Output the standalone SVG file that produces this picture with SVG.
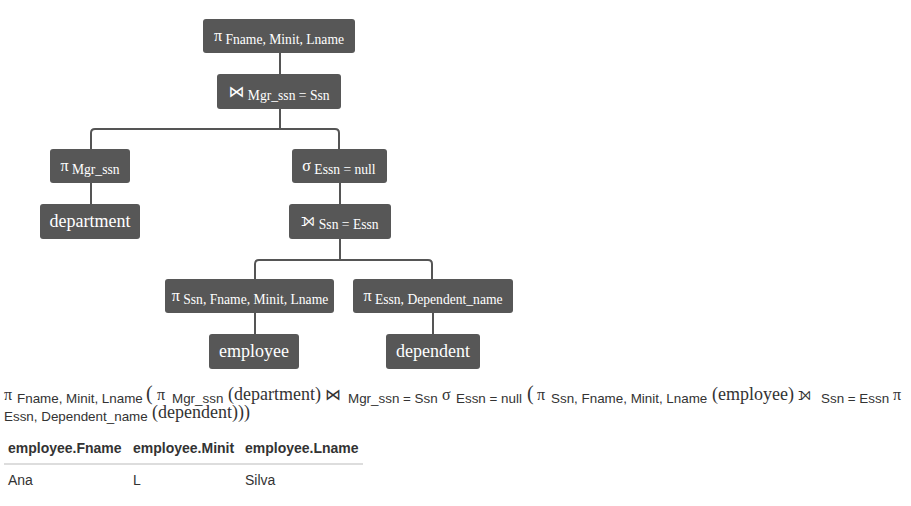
<svg xmlns="http://www.w3.org/2000/svg" width="911" height="506" viewBox="0 0 911 506">
<style>
.node rect{fill:#575757;}
.node text{fill:#fff;font-family:"Liberation Serif","Times New Roman",serif;text-anchor:middle;}
.op{font-size:16px;}
.sub{font-size:13.6px;}
.edge{fill:none;stroke:#555;stroke-width:2;}
.expr{font-family:"Liberation Sans",Arial,sans-serif;font-size:13.4px;fill:#333;}
.ser{font-family:"Liberation Serif","Times New Roman","DejaVu Serif",serif;}
.sym{font-family:"DejaVu Sans",sans-serif;}
.th{font-family:"Liberation Sans",Arial,sans-serif;font-size:14px;font-weight:bold;fill:#333;}
.td{font-family:"Liberation Sans",Arial,sans-serif;font-size:14px;fill:#333;}
</style>
<rect width="911" height="506" fill="#fff"/>
<g id="connectors">
<path class="edge" d="M280 53V74"/>
<path class="edge" d="M280 109V129"/>
<path class="edge" d="M91 149V133Q91 129 95 129H335Q339 129 339 133V149"/>
<path class="edge" d="M91 183V204"/>
<path class="edge" d="M340 183V204"/>
<path class="edge" d="M340 239V260"/>
<path class="edge" d="M255 279V264Q255 260 259 260H428Q432 260 432 264V279"/>
<path class="edge" d="M255 313V334"/>
<path class="edge" d="M433 313V334"/>
</g>
<g id="n1" class="node"><rect x="203" y="19" width="152" height="34" rx="3"/><text x="279" y="41"><tspan class="op">π</tspan><tspan class="sub" dy="3"> Fname, Minit, Lname</tspan></text></g>
<g id="n2" class="node"><rect x="217" y="74" width="124" height="35" rx="3"/><text x="279" y="97"><tspan class="op sym">⋈</tspan><tspan class="sub" dy="3"> Mgr_ssn = Ssn</tspan></text></g>
<g id="n3" class="node"><rect x="50" y="149" width="80" height="34" rx="3"/><text x="90" y="171"><tspan class="op">π</tspan><tspan class="sub" dy="3"> Mgr_ssn</tspan></text></g>
<g id="n4" class="node"><rect x="40" y="204" width="100" height="35" rx="3"/><text x="90" y="227" style="font-family:'Liberation Serif','Times New Roman',serif;font-size:18px">department</text></g>
<g id="n5" class="node"><rect x="292" y="149" width="95" height="34" rx="3"/><text x="339" y="171"><tspan class="op">σ</tspan><tspan class="sub" dy="3"> Essn = null</tspan></text></g>
<g id="n6" class="node"><rect x="289" y="204" width="102" height="35" rx="3"/><text x="340" y="226"><tspan class="sym" font-size="18">⟕</tspan><tspan class="sub" dy="3"> Ssn = Essn</tspan></text></g>
<g id="n7" class="node"><rect x="165" y="279" width="169" height="34" rx="3"/><text x="250" y="301"><tspan class="op">π</tspan><tspan class="sub" dy="3"> Ssn, Fname, Minit, Lname</tspan></text></g>
<g id="n8" class="node"><rect x="353" y="279" width="160" height="34" rx="3"/><text x="433" y="301"><tspan class="op">π</tspan><tspan class="sub" dy="3"> Essn, Dependent_name</tspan></text></g>
<g id="n9" class="node"><rect x="209" y="334" width="90" height="35" rx="3"/><text x="254" y="357" style="font-family:'Liberation Serif','Times New Roman',serif;font-size:18px">employee</text></g>
<g id="n10" class="node"><rect x="386" y="334" width="94" height="35" rx="3"/><text x="433" y="357" style="font-family:'Liberation Serif','Times New Roman',serif;font-size:18px">dependent</text></g>
<g id="expression">
<text class="expr"><tspan class="ser" x="4" y="400" font-size="16">π</tspan><tspan x="17" y="403">Fname, Minit, Lname</tspan><tspan class="ser" x="146" y="400" font-size="20">(</tspan><tspan class="ser" x="157" y="400" font-size="16">π</tspan><tspan x="172" y="403">Mgr_ssn</tspan><tspan class="ser" x="228" y="400" font-size="18">(department)</tspan><tspan class="sym" x="325" y="400" font-size="16">⋈</tspan><tspan x="348" y="403">Mgr_ssn = Ssn</tspan><tspan class="ser" x="442" y="400" font-size="16">σ</tspan><tspan x="456" y="403">Essn = null</tspan><tspan class="ser" x="527" y="400" font-size="20">(</tspan><tspan class="ser" x="537" y="400" font-size="16">π</tspan><tspan x="551" y="403">Ssn, Fname, Minit, Lname</tspan><tspan class="ser" x="712" y="400" font-size="18">(employee)</tspan><tspan class="sym" x="798" y="400" font-size="17">⟕</tspan><tspan x="821" y="403">Ssn = Essn</tspan><tspan class="ser" x="893" y="400" font-size="16">π</tspan></text>
<text class="expr"><tspan x="4" y="421">Essn, Dependent_name</tspan><tspan class="ser" x="152" y="418" font-size="18">(dependent)))</tspan></text>
</g>
<g id="table">
<text class="th" x="8" y="453">employee.Fname</text>
<text class="th" x="133" y="453">employee.Minit</text>
<text class="th" x="245" y="453">employee.Lname</text>
<line x1="4" y1="464" x2="363" y2="464" stroke="#ddd" stroke-width="2"/>
<text class="td" x="8" y="485">Ana</text>
<text class="td" x="133" y="485">L</text>
<text class="td" x="245" y="485">Silva</text>
</g>
</svg>
